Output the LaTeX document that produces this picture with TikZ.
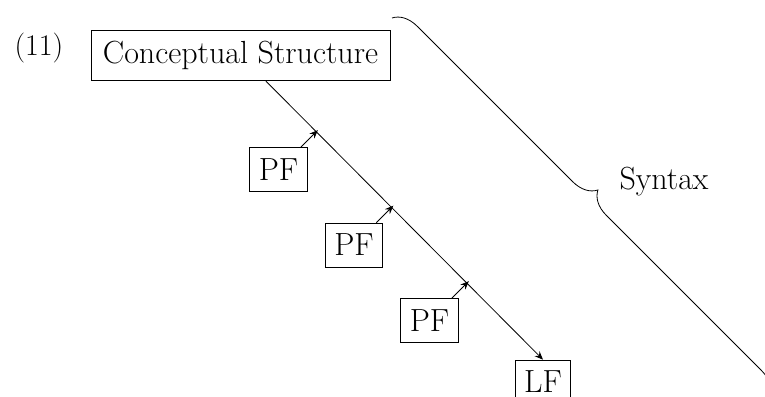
\documentclass[tikz,border=0pt]{standalone}
\usepackage{fontspec}
\setmainfont{Latin Modern Roman}
\usetikzlibrary{arrows.meta,decorations.pathreplacing,calc}
\begin{document}
\begin{tikzpicture}[x=1pt,y=-1pt,
  font=\fontsize{32}{38}\selectfont,
  boxnode/.style={draw,line width=0.8pt,inner xsep=9pt,inner ysep=11pt},
  arr/.style={line width=0.8pt,-{Stealth[length=8.5pt,width=7pt,inset=3pt]}},
  bracestyle/.style={line width=0.8pt,decorate,decoration={brace,amplitude=24pt}}]
\useasboundingbox (0,0) rectangle (765,396);
\node[anchor=base west,font=\fontsize{30}{36}\selectfont] (num) at (11,55.5) {(11)};
\node[boxnode,inner xsep=12pt] (cs) at (240.5,55.5) {Conceptual Structure};
\node[boxnode] (pf1) at (278.5,169.5) {PF};
\node[boxnode] (pf2) at (354,245) {PF};
\node[boxnode] (pf3) at (429.5,320.5) {PF};
\node[boxnode] (lf) at (543,382) {LF};
\draw[arr] (cs) -- (lf.north);
\coordinate (t1) at ($(pf1.45)+(17,-17)$);
\coordinate (t2) at ($(pf2.45)+(17,-17)$);
\coordinate (t3) at ($(pf3.45)+(17,-17)$);
\draw[arr] (pf1.45) -- (t1);
\draw[arr] (pf2.45) -- (t2);
\draw[arr] (pf3.45) -- (t3);
\coordinate (ba) at (392,18);
\coordinate (bb) at (770,396);
\draw[bracestyle] (ba) -- (bb);
\node[anchor=base west] (syn) at (616,189) {Syntax};
\end{tikzpicture}
\end{document}
